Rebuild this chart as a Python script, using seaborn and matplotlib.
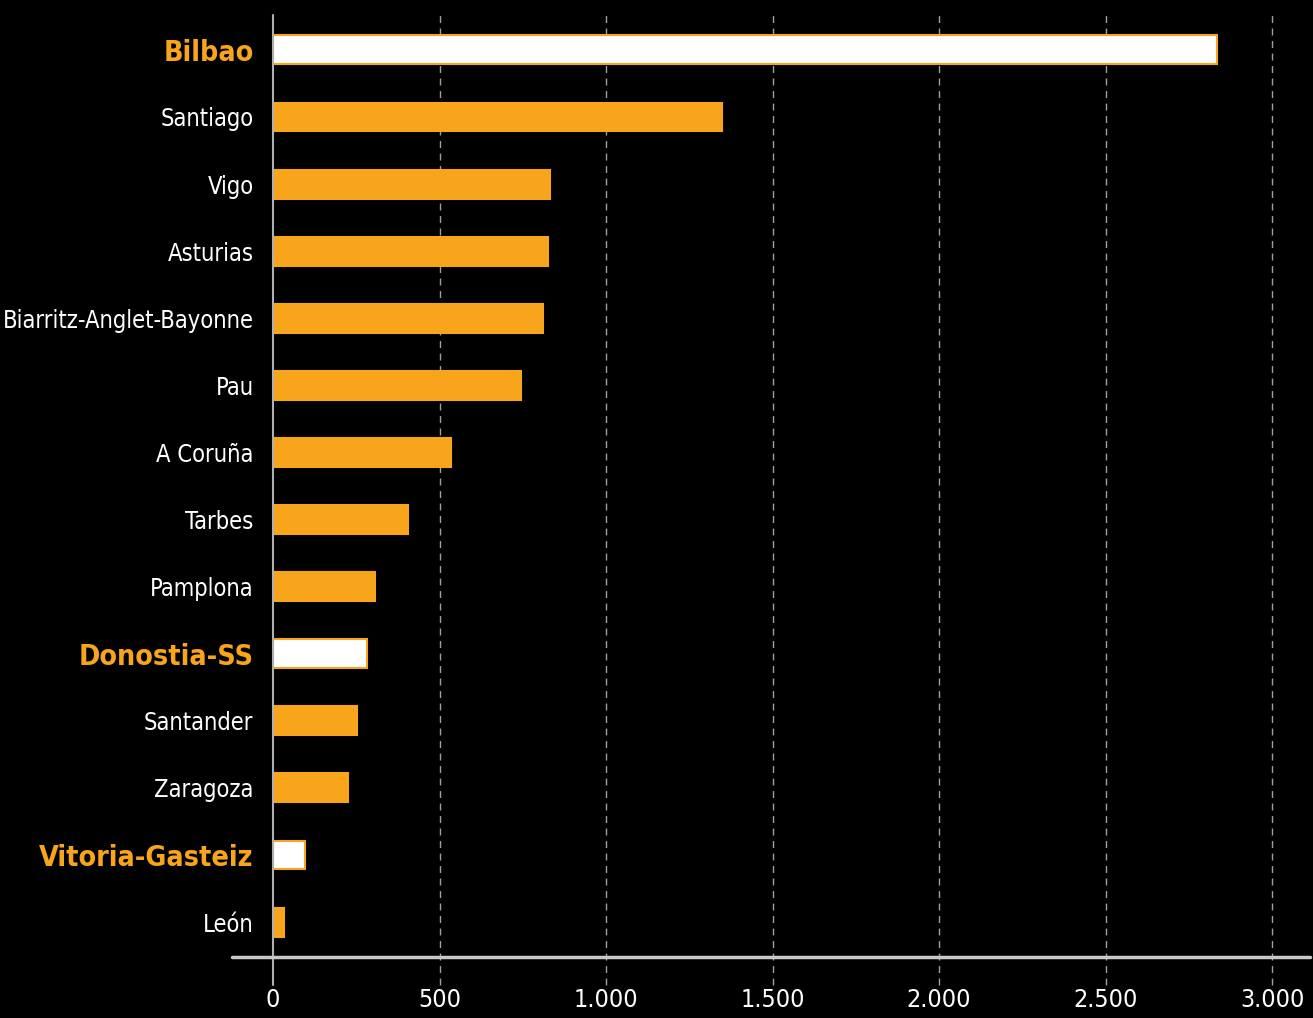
import matplotlib
matplotlib.use("Agg")
import matplotlib.pyplot as plt
import seaborn as sns

cities = ["Bilbao", "Santiago", "Vigo", "Asturias", "Biarritz-Anglet-Bayonne", "Pau",
          "A Coruña", "Tarbes", "Pamplona", "Donostia-SS", "Santander", "Zaragoza",
          "Vitoria-Gasteiz", "León"]
values = [2835, 1348, 832, 825, 810, 745, 534, 405, 306, 282, 252, 225, 96, 33]
highlight = ["Bilbao", "Donostia-SS", "Vitoria-Gasteiz"]
ticks = [0, 500, 1000, 1500, 2000, 2500, 3000]
tick_labels = ["0", "500", "1.000", "1.500", "2.000", "2.500", "3.000"]

orange = "#F9A51B"
sns.set_style("dark", {"axes.facecolor": "black", "figure.facecolor": "black"})
plt.rcParams["font.family"] = ["DejaVu Sans"]
plt.rcParams["font.stretch"] = "condensed"

fig = plt.figure(figsize=(13.13, 10.18), dpi=100)
ax = fig.add_axes([273 / 1313, 1 - 957 / 1018, (1310 - 273) / 1313, (957 - 15) / 1018])

colors = ["white" if c in highlight else orange for c in cities]
sns.barplot(x=values, y=cities, hue=cities, palette=colors, legend=False, saturation=1,
            orient="h", width=0.43, ax=ax, edgecolor=orange, linewidth=1.5)

ax.set_xlim(0, 3114)
ax.set_ylim(13.52, -0.52)

# dashed gridlines + solid zero line, running a bit past the bottom line
for t in ticks[1:]:
    ax.axvline(t, ymin=-0.03, ymax=1, color="#a0a0a0", lw=1, ls=(0, (5, 4)),
               clip_on=False, zorder=0)
ax.axvline(0, ymin=-0.03, ymax=1, color="#b0b0b0", lw=1.5, clip_on=False, zorder=3)

for s in ax.spines.values():
    s.set_visible(False)
# bottom line starts left of the zero line
ax.plot([-41 / 1037, 1], [0, 0], transform=ax.transAxes, color="#c8c8c8", lw=2.5,
        clip_on=False, zorder=4)

ax.set_xticks(ticks)
ax.set_xticklabels(tick_labels, color="white", fontsize=18)
ax.tick_params(axis="x", length=0, pad=22)
ax.tick_params(axis="y", length=0, pad=14)
ax.set_xlabel("")
ax.set_ylabel("")

for lbl in ax.get_yticklabels():
    if lbl.get_text() in highlight:
        lbl.set_color(orange)
        lbl.set_fontweight("bold")
        lbl.set_fontsize(20.5)
    else:
        lbl.set_color("white")
        lbl.set_fontsize(17)

fig.savefig("out.png", dpi=100, facecolor="black")
